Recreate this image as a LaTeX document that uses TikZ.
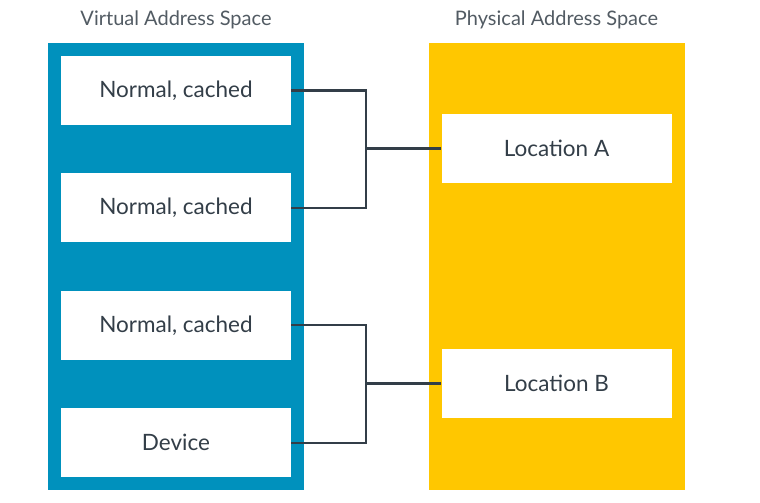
\documentclass[tikz,border=0pt]{standalone}
\usepackage{fontspec}
\setmainfont{Lato}
\usepackage{tikz}
\usetikzlibrary{positioning,calc}
\definecolor{armblue}{HTML}{0091BD}
\definecolor{armyellow}{HTML}{FFC700}
\definecolor{slate}{HTML}{333E48}
\tikzset{
  spacepanel/.style={
    rectangle, fill=#1, draw=none,
    minimum width=256pt, minimum height=447pt,
    inner sep=0pt
  },
  spacepanel/.default=armblue,
  regionbox/.style={
    rectangle, fill=white, draw=none,
    minimum width=230pt, minimum height=69pt,
    font=\fontsize{22.5}{26}\selectfont, text=slate,
    inner sep=0pt
  },
  titlenode/.style={
    font=\fontsize{20}{24}\selectfont, text=slate!85
  },
  maplink/.style={
    draw=slate, line width=2.2pt
  },
}
\begin{document}
\begin{tikzpicture}[x=1pt, y=-1pt]
  \useasboundingbox (0,0) rectangle (760,503);

  % address spaces
  \node[spacepanel=armblue] (virt) at (176,266.5) {};
  \node[spacepanel=armyellow] (phys) at (556.5,266.5) {};
  \node[titlenode] (virttitle) at (176,20) {Virtual Address Space};
  \node[titlenode] (phystitle) at (556.5,20) {Physical Address Space};

  % virtual regions
  \node[regionbox] (va1) at (176,90.5) {Normal, cached};
  \node[regionbox, below=48pt of va1] (va2) {Normal, cached};
  \node[regionbox, below=48pt of va2] (va3) {Normal, cached};
  \node[regionbox, below=48pt of va3] (va4) {Device};

  % physical locations
  \node[regionbox] (locA) at (556.5,148.5) {Location A};
  \node[regionbox] (locB) at (556.5,383.5) {Location B};

  % mappings
  \coordinate (jA) at ($(locA.west)+(-75,0)$);
  \coordinate (jB) at ($(locB.west)+(-75,0)$);
  \draw[maplink] (va1.east) -| (jA) |- (va2.east);
  \draw[maplink] (jA) -- (locA.west);
  \draw[maplink] (va3.east) -| (jB) |- (va4.east);
  \draw[maplink] (jB) -- (locB.west);
\end{tikzpicture}
\end{document}
